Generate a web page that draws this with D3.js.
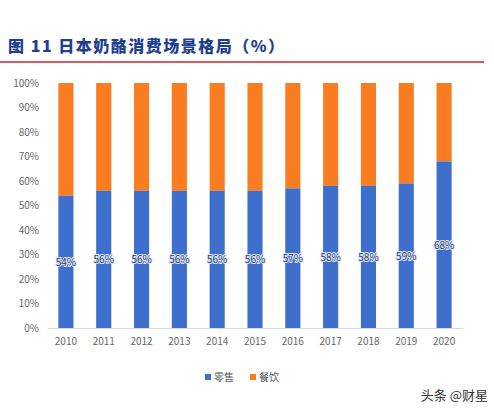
<!DOCTYPE html><html><head><meta charset="utf-8">
<script src="https://cdn.jsdelivr.net/npm/d3@7"></script>
<style>body{margin:0;background:#fff}</style></head><body>
<svg id="c" width="494" height="408"></svg>
<script>
const years=["2010","2011","2012","2013","2014","2015","2016","2017","2018","2019","2020"];
const retail=[54,56,56,56,56,56,57,58,58,59,68];
const yTicks=[0,10,20,30,40,50,60,70,80,90,100];
const svg=d3.select("#c");
const f="'Noto Sans CJK SC',sans-serif";
svg.append("text").attr("x",8).attr("y",52).attr("font-family",f).attr("font-weight",900).attr("font-size",16).attr("letter-spacing",1.5).attr("fill","#1f3f8f").text("图 11  日本奶酪消费场景格局（%）");
svg.append("line").attr("x1",0).attr("x2",484).attr("y1",62).attr("y2",62).attr("stroke","#c9252b").attr("stroke-width",1.5);
const x=d3.scaleBand().domain(years).range([47,463]).paddingInner(0.6).paddingOuter(0.3);
const y=d3.scaleLinear().domain([0,100]).range([328,83]);
const g=svg.append("g");
g.selectAll(".o").data(years).join("rect").attr("x",d=>x(d)).attr("width",x.bandwidth()).attr("y",y(100)).attr("height",(d,i)=>y(retail[i])-y(100)).attr("fill","#fa7d21");
g.selectAll(".b").data(years).join("rect").attr("x",d=>x(d)).attr("width",x.bandwidth()).attr("y",(d,i)=>y(retail[i])).attr("height",(d,i)=>y(0)-y(retail[i])).attr("fill","#3f6fcc");
g.selectAll(".l").data(years).join("text").attr("x",d=>x(d)+x.bandwidth()/2).attr("y",(d,i)=>y(retail[i]/2)+4).attr("text-anchor","middle").attr("font-family",f).attr("font-size",10).attr("fill","#22386e").attr("stroke","#dfe6f5").attr("stroke-width",2).attr("paint-order","stroke").text((d,i)=>retail[i]+"%");
const ya=svg.append("g").attr("transform","translate(47,0)").call(d3.axisLeft(y).tickValues(yTicks).tickFormat(d=>d+"%").tickSize(0).tickPadding(8));
ya.select(".domain").remove();
ya.selectAll("text").attr("font-family",f).attr("font-size",10).attr("fill","#666");
const xa=svg.append("g").attr("transform","translate(0,328)").call(d3.axisBottom(x).tickSize(0).tickPadding(10));
xa.select(".domain").attr("stroke","#d9d9d9");
xa.selectAll("text").attr("font-family",f).attr("font-size",10).attr("fill","#666");
const leg=[["零售","#3f6fcc",205],["餐饮","#fa7d21",250]];
leg.forEach(([t,c,lx])=>{svg.append("rect").attr("x",lx).attr("y",374).attr("width",6).attr("height",6).attr("fill",c);
svg.append("text").attr("x",lx+9).attr("y",381).attr("font-family",f).attr("font-size",10).attr("fill","#555").text(t);});
svg.append("text").attr("x",488).attr("y",400).attr("text-anchor","end").attr("font-family",f).attr("font-size",13).attr("fill","#333").attr("stroke","#fff").attr("stroke-width",2).attr("paint-order","stroke").text("头条 @财星");
</script></body></html>
